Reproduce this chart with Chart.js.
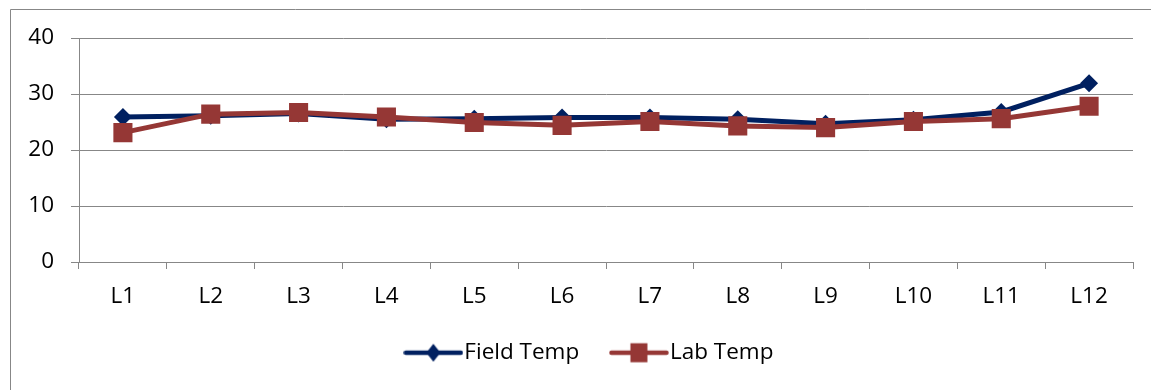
<!DOCTYPE html>
<html>
<head>
<meta charset="utf-8">
<title>Field vs Lab Temperature</title>
<script src="https://cdn.jsdelivr.net/npm/chart.js@4.4.1/dist/chart.umd.min.js"></script>
<style>
  html, body { margin: 0; padding: 0; background: #ffffff; }
  #wrap { width: 1151px; height: 390px; }
</style>
</head>
<body>
<div id="wrap"><canvas id="chart" width="1151" height="390"></canvas></div>
<script>
// Sampling locations
const locations = ['L1', 'L2', 'L3', 'L4', 'L5', 'L6', 'L7', 'L8', 'L9', 'L10', 'L11', 'L12'];

// Temperatures measured in the field and in the lab
const fieldTemp = [25.9, 26.1, 26.5, 25.5, 25.6, 25.8, 25.8, 25.5, 24.7, 25.4, 26.8, 31.9];
const labTemp   = [23.1, 26.4, 26.7, 25.9, 24.9, 24.4, 25.1, 24.3, 24.0, 25.1, 25.6, 27.8];

// Series names
const seriesNames = ['Field Temp', 'Lab Temp'];

// Y axis range
const yMin = 0;
const yMax = 40;
const yStep = 10;

const FIELD_COLOR = '#002060';
const LAB_COLOR = '#953735';
const GRID_COLOR = '#878787';
const FONT = { family: '"Open Sans", "Noto Sans", sans-serif', size: 22.5 };

// Small line-with-marker icons for the legend
function legendIcon(color, marker) {
  const c = document.createElement('canvas');
  c.width = 60; c.height = 22;
  const g = c.getContext('2d');
  g.strokeStyle = color;
  g.fillStyle = color;
  g.lineWidth = 4.5;
  g.lineCap = 'round';
  g.beginPath();
  g.moveTo(2.5, 11); g.lineTo(57.5, 11);
  g.stroke();
  g.beginPath();
  if (marker === 'diamond') {
    g.moveTo(30, 2); g.lineTo(37, 11); g.lineTo(30, 20); g.lineTo(23, 11);
    g.closePath();
  } else {
    g.rect(21.5, 1.5, 17, 19);
  }
  g.fill();
  return c;
}
const legendIcons = [legendIcon(FIELD_COLOR, 'diamond'), legendIcon(LAB_COLOR, 'square')];

// Outer frame of the chart object, partly cut by the page edge
const framePlugin = {
  id: 'frame',
  beforeDraw(chart) {
    const ctx = chart.ctx;
    ctx.save();
    ctx.strokeStyle = GRID_COLOR;
    ctx.lineWidth = 1;
    ctx.beginPath();
    ctx.moveTo(10.5, chart.height);
    ctx.lineTo(10.5, 9.5);
    ctx.lineTo(chart.width, 9.5);
    ctx.stroke();
    ctx.restore();
  }
};

// Nudge the legend row so it sits centred under the plot
const legendShift = {
  id: 'legendShift',
  afterLayout(chart) {
    const lg = chart.legend;
    if (lg) {
      lg.left += 27; lg.right += 27;
      lg.top -= 3.5; lg.bottom -= 3.5;
    }
  }
};

new Chart(document.getElementById('chart'), {
  type: 'line',
  data: {
    labels: locations,
    datasets: [
      {
        label: seriesNames[0],
        data: fieldTemp,
        borderColor: FIELD_COLOR,
        backgroundColor: FIELD_COLOR,
        borderWidth: 5,
        pointStyle: 'rectRot',
        pointRadius: 9,
        pointBorderWidth: 0,
        tension: 0,
        order: 1
      },
      {
        label: seriesNames[1],
        data: labTemp,
        borderColor: LAB_COLOR,
        backgroundColor: LAB_COLOR,
        borderWidth: 5,
        pointStyle: 'rect',
        pointRadius: 13.5,
        pointBorderWidth: 0,
        tension: 0,
        order: 0
      }
    ]
  },
  options: {
    responsive: false,
    animation: false,
    devicePixelRatio: 1,
    layout: { padding: { top: 38, right: 18, left: 0, bottom: 12.5 } },
    plugins: {
      tooltip: { enabled: false },
      legend: {
        position: 'bottom',
        labels: {
          usePointStyle: true,
          pointStyleWidth: 39.5,
          padding: 40,
          color: '#000000',
          font: FONT,
          generateLabels(chart) {
            return chart.data.datasets.map((ds, i) => ({
              text: ds.label,
              fillStyle: ds.borderColor,
              strokeStyle: ds.borderColor,
              lineWidth: 0,
              pointStyle: legendIcons[i],
              fontColor: '#000000',
              hidden: false,
              datasetIndex: i
            }));
          }
        }
      }
    },
    scales: {
      x: {
        offset: true,
        grid: {
          offset: true,
          drawOnChartArea: false,
          drawTicks: true,
          tickLength: 7,
          color: GRID_COLOR
        },
        border: { color: GRID_COLOR, width: 1 },
        ticks: { color: '#000000', font: FONT, padding: 14, maxRotation: 0 },
        afterFit(scale) { scale.height = 43; }
      },
      y: {
        min: yMin,
        max: yMax,
        grid: { color: GRID_COLOR, tickLength: 8, lineWidth: 1 },
        border: { color: GRID_COLOR, width: 1 },
        ticks: { stepSize: yStep, color: '#000000', font: FONT, padding: 17 },
        afterFit(scale) { scale.width = 79; }
      }
    }
  },
  plugins: [framePlugin, legendShift]
});
</script>
</body>
</html>
